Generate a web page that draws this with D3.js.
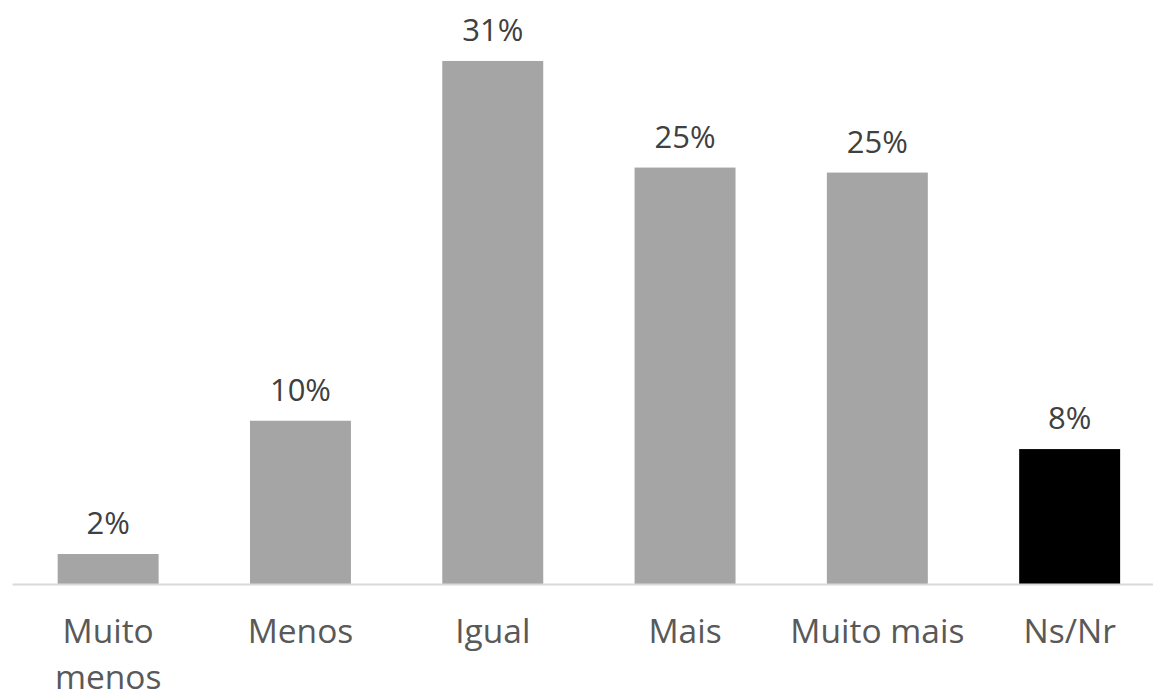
<!DOCTYPE html>
<html>
<head>
<meta charset="utf-8">
<script src="https://cdn.jsdelivr.net/npm/d3@7/dist/d3.min.js"></script>
<style>
  body { margin: 0; background: #fff; }
  svg { display: block; font-family: "Open Sans", sans-serif; }
</style>
</head>
<body>
<script>
// values
const categories = ["Muito menos", "Menos", "Igual", "Mais", "Muito mais", "Ns/Nr"];
const labelLines = [["Muito", "menos"], ["Menos"], ["Igual"], ["Mais"], ["Muito mais"], ["Ns/Nr"]];
const values = [1.8, 9.8, 31.4, 25.0, 24.7, 8.1];
const colors = ["#a5a5a5", "#a5a5a5", "#a5a5a5", "#a5a5a5", "#a5a5a5", "#000000"];

const width = 1153, height = 693;

const svg = d3.select("body").append("svg")
  .attr("width", width)
  .attr("height", height);

const xScale = d3.scaleBand()
  .domain(categories)
  .range([12, 12 + 6 * 192.3])
  .paddingInner(0.475)
  .paddingOuter(0.2375);

const yScale = d3.scaleLinear().domain([0, 35]).range([584, 1]);

// bars
svg.selectAll("rect.bar")
  .data(values)
  .enter()
  .append("rect")
  .attr("class", "bar")
  .attr("x", (d, i) => xScale(categories[i]))
  .attr("y", d => yScale(d))
  .attr("width", xScale.bandwidth())
  .attr("height", d => yScale(0) - yScale(d))
  .style("fill", (d, i) => colors[i]);

// value labels
svg.selectAll("text.val")
  .data(values)
  .enter()
  .append("text")
  .attr("class", "val")
  .attr("x", (d, i) => xScale(categories[i]) + xScale.bandwidth() / 2)
  .attr("y", d => yScale(d) - 20)
  .attr("text-anchor", "middle")
  .style("font-size", "31px")
  .style("fill", "#404040")
  .text(d => Math.round(d) + "%");

// x axis
const xAxis = d3.axisBottom(xScale).tickSize(0).tickSizeOuter(0);
const xAxisG = svg.append("g")
  .attr("id", "xAxisG")
  .attr("transform", "translate(0," + yScale(0) + ")")
  .call(xAxis);

xAxisG.select(".domain")
  .style("stroke", "#d9d9d9")
  .style("stroke-width", "2px");

xAxisG.selectAll(".tick text").remove();
xAxisG.selectAll(".tick")
  .append("text")
  .attr("text-anchor", "middle")
  .style("font-size", "33.5px")
  .style("font-family", "Open Sans, sans-serif")
  .style("fill", "#595959")
  .each(function(d, i) {
    const lines = labelLines[categories.indexOf(d)];
    d3.select(this).selectAll("tspan")
      .data(lines)
      .enter()
      .append("tspan")
      .attr("x", 0)
      .attr("y", (l, j) => 59 + j * 46)
      .text(l => l);
  });
</script>
</body>
</html>
